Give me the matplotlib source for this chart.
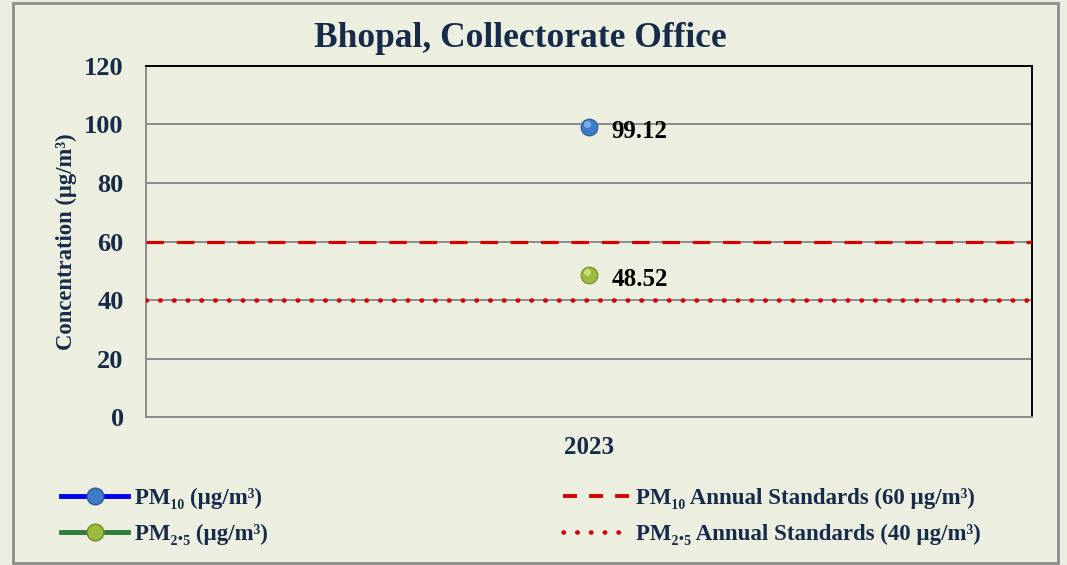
import matplotlib
matplotlib.use("Agg")
import matplotlib.pyplot as plt
from matplotlib.patches import Rectangle
from matplotlib.lines import Line2D
from matplotlib import transforms

years = ["2023"]
pm10 = [99.12]
pm25 = [48.52]
pm10_std = 60
pm25_std = 40

bg = "#ECEFE0"
navy = "#162A4A"
serif = ["Liberation Serif", "DejaVu Serif"]

plt.rcParams["font.family"] = serif
plt.rcParams["font.weight"] = "bold"

fig = plt.figure(figsize=(10.67, 5.65), dpi=100, facecolor=bg)
fig.patches.append(Rectangle((0.0122, 0.004), 0.979, 0.99, transform=fig.transFigure,
                             fill=False, edgecolor="#8C8C8C", linewidth=2))
ax = fig.add_axes([0.1368, 0.2619, 0.8304, 0.6213])
ax.set_facecolor(bg)

x = list(range(len(years)))

# standards
ax.axhline(pm10_std, color="#D40000", lw=2.3, linestyle=(0, (5.5, 4)), zorder=3)
ax.axhline(pm25_std, color="#D40000", lw=3.3, linestyle=(0, (0.1, 2.9)),
           dash_capstyle="round", zorder=3)

# measured values
ax.plot(x, pm10, color="#0000F0", lw=3, marker="o", markersize=12,
        markerfacecolor="#3F7CC8", markeredgecolor="#2A5A96", markeredgewidth=0.8, zorder=5)
ax.plot(x, pm25, color="#2E7D3A", lw=3, marker="o", markersize=12,
        markerfacecolor="#9DBA3E", markeredgecolor="#6E8A28", markeredgewidth=0.8, zorder=5)
hl = transforms.offset_copy(ax.transData, fig=fig, x=-1.5, y=2, units="points")
ax.plot(x, pm10, "o", markersize=5, color="#8FB8EA", alpha=0.8, transform=hl,
        markeredgewidth=0, zorder=6)
ax.plot(x, pm25, "o", markersize=5, color="#D6E98A", alpha=0.8, transform=hl,
        markeredgewidth=0, zorder=6)

for xi, v in zip(x, pm10):
    ax.annotate(f"{v:.2f}", (xi, v), xytext=(16, -3), textcoords="offset points",
                va="center", ha="left", fontsize=18, fontweight="bold", color="black")
for xi, v in zip(x, pm25):
    ax.annotate(f"{v:.2f}", (xi, v), xytext=(16, -3), textcoords="offset points",
                va="center", ha="left", fontsize=18, fontweight="bold", color="black")

ax.set_xlim(-0.5, 0.5)
ax.set_ylim(0, 120)
ax.set_yticks(range(0, 121, 20))
ax.set_xticks(x)
ax.set_xticklabels(years)
ax.tick_params(length=0, labelsize=19, labelcolor=navy, pad=16)
ax.tick_params(axis="x", labelsize=18, pad=14)
for lab in ax.get_xticklabels() + ax.get_yticklabels():
    lab.set_fontweight("bold")
ax.grid(axis="y", color="#8C8C8C", lw=1.4)
ax.set_axisbelow(True)
ax.spines["top"].set_color("black")
ax.spines["right"].set_color("black")
ax.spines["left"].set_color("#8C8C8C")
ax.spines["bottom"].set_color("#8C8C8C")
for s in ax.spines.values():
    s.set_linewidth(1.4)

ax.set_ylabel("Concentration (µg/m³)", fontsize=16.3, fontweight="bold", color=navy, labelpad=5)
fig.text(0.488, 1 - 47 / 565, "Bhopal, Collectorate Office", ha="center", va="baseline",
         fontsize=25.5, fontweight="bold", color=navy)

h1 = [Line2D([], [], color="#0000F0", lw=3.5, marker="o", markersize=12,
             markerfacecolor="#3F7CC8", markeredgecolor="#2A5A96"),
      Line2D([], [], color="#2E7D3A", lw=3.5, marker="o", markersize=12,
             markerfacecolor="#9DBA3E", markeredgecolor="#6E8A28")]
h2 = [Line2D([], [], color="#D40000", lw=2.8, linestyle=(0, (3.6, 3.1))),
      Line2D([], [], color="#D40000", lw=3.3, linestyle=(0, (0.1, 2.9)), dash_capstyle="round")]
leg_kw = dict(frameon=False, handlelength=2.9, handletextpad=0.3,
              labelspacing=0.64, labelcolor=navy, borderaxespad=0,
              prop={"family": serif, "weight": "bold", "size": 16.5})
fig.legend(h1, ["PM₁₀ (µg/m³)", "PM₂.₅ (µg/m³)"], loc="lower left",
           bbox_to_anchor=(0.049, 0.019), **leg_kw)
fig.legend(h2, ["PM₁₀ Annual Standards (60 µg/m³)", "PM₂.₅ Annual Standards (40 µg/m³)"],
           loc="lower left", bbox_to_anchor=(0.519, 0.019), **leg_kw)

fig.savefig("out.png", dpi=100, facecolor=bg)
